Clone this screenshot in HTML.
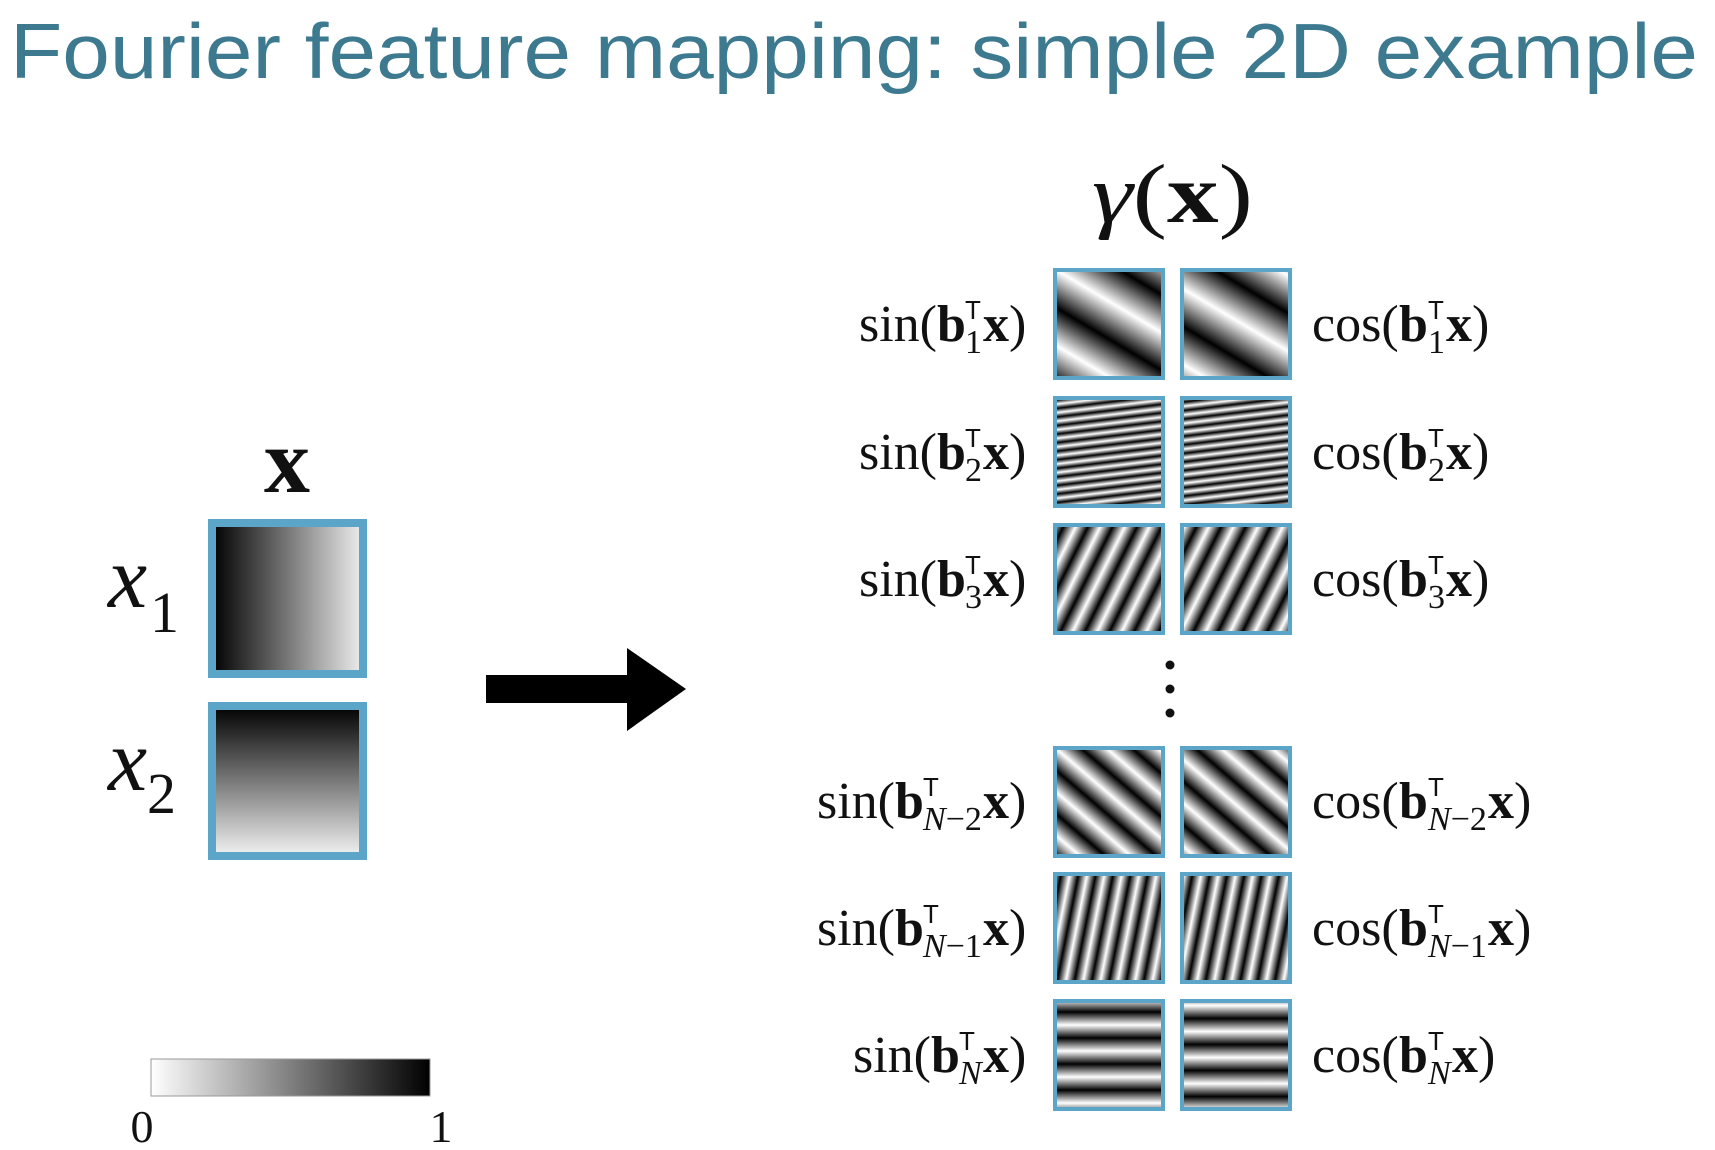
<!DOCTYPE html>
<html><head><meta charset="utf-8"><style>
html,body{margin:0;padding:0;background:#fff;width:1715px;height:1150px;overflow:hidden}
svg{display:block}
.m{font-family:"Liberation Serif",serif;font-size:52px;fill:#111}
.b{font-weight:bold}
.sup{font-family:"Liberation Sans",sans-serif;font-size:26px;fill:#111}
.sub{font-family:"Liberation Serif",serif;font-size:34px;fill:#111}
</style></head><body>
<svg width="1715" height="1150" viewBox="0 0 1715 1150" xmlns="http://www.w3.org/2000/svg">
<defs>
<linearGradient id="x1g" x1="0" y1="0" x2="1" y2="0"><stop offset="0" stop-color="#000"/><stop offset="1" stop-color="#eee"/></linearGradient>
<linearGradient id="x2g" x1="0" y1="0" x2="0" y2="1"><stop offset="0" stop-color="#000"/><stop offset="1" stop-color="#f2f2f2"/></linearGradient>
<linearGradient id="cb" x1="0" y1="0" x2="1" y2="0"><stop offset="0" stop-color="#fff"/><stop offset="1" stop-color="#000"/></linearGradient>
<linearGradient id="g1s" gradientUnits="userSpaceOnUse" spreadMethod="repeat" x1="0" y1="0" x2="-33.2" y2="55.9"><stop offset="0" stop-color="#fff"/><stop offset="0.5" stop-color="#000"/><stop offset="1" stop-color="#fff"/></linearGradient>
<linearGradient id="g1c" gradientUnits="userSpaceOnUse" spreadMethod="repeat" x1="-8.3" y1="14" x2="-41.5" y2="69.9"><stop offset="0" stop-color="#fff"/><stop offset="0.5" stop-color="#000"/><stop offset="1" stop-color="#fff"/></linearGradient>
<linearGradient id="g2s" gradientUnits="userSpaceOnUse" spreadMethod="repeat" x1="0" y1="0" x2="1.02" y2="8.44"><stop offset="0" stop-color="#fff"/><stop offset="0.5" stop-color="#000"/><stop offset="1" stop-color="#fff"/></linearGradient>
<linearGradient id="g2c" gradientUnits="userSpaceOnUse" spreadMethod="repeat" x1="0.25" y1="2.1" x2="1.27" y2="10.54"><stop offset="0" stop-color="#fff"/><stop offset="0.5" stop-color="#000"/><stop offset="1" stop-color="#fff"/></linearGradient>
<linearGradient id="g3s" gradientUnits="userSpaceOnUse" spreadMethod="repeat" x1="0" y1="0" x2="19.7" y2="9.8"><stop offset="0" stop-color="#fff"/><stop offset="0.5" stop-color="#000"/><stop offset="1" stop-color="#fff"/></linearGradient>
<linearGradient id="g3c" gradientUnits="userSpaceOnUse" spreadMethod="repeat" x1="4.9" y1="2.46" x2="24.6" y2="12.3"><stop offset="0" stop-color="#fff"/><stop offset="0.5" stop-color="#000"/><stop offset="1" stop-color="#fff"/></linearGradient>
<linearGradient id="g4s" gradientUnits="userSpaceOnUse" spreadMethod="repeat" x1="0" y1="0" x2="-21.45" y2="25.1"><stop offset="0" stop-color="#fff"/><stop offset="0.5" stop-color="#000"/><stop offset="1" stop-color="#fff"/></linearGradient>
<linearGradient id="g4c" gradientUnits="userSpaceOnUse" spreadMethod="repeat" x1="-5.36" y1="6.27" x2="-26.8" y2="31.4"><stop offset="0" stop-color="#fff"/><stop offset="0.5" stop-color="#000"/><stop offset="1" stop-color="#fff"/></linearGradient>
<linearGradient id="g5s" gradientUnits="userSpaceOnUse" spreadMethod="repeat" x1="0" y1="0" x2="16.66" y2="3.33"><stop offset="0" stop-color="#fff"/><stop offset="0.5" stop-color="#000"/><stop offset="1" stop-color="#fff"/></linearGradient>
<linearGradient id="g5c" gradientUnits="userSpaceOnUse" spreadMethod="repeat" x1="4.17" y1="0.83" x2="20.8" y2="4.17"><stop offset="0" stop-color="#fff"/><stop offset="0.5" stop-color="#000"/><stop offset="1" stop-color="#fff"/></linearGradient>
<linearGradient id="g6s" gradientUnits="userSpaceOnUse" spreadMethod="repeat" x1="0" y1="0" x2="0" y2="26"><stop offset="0" stop-color="#fff"/><stop offset="0.5" stop-color="#000"/><stop offset="1" stop-color="#fff"/></linearGradient>
<linearGradient id="g6c" gradientUnits="userSpaceOnUse" spreadMethod="repeat" x1="0" y1="6.5" x2="0" y2="32.5"><stop offset="0" stop-color="#fff"/><stop offset="0.5" stop-color="#000"/><stop offset="1" stop-color="#fff"/></linearGradient>
</defs>

<text x="10" y="78" font-family="Liberation Sans, sans-serif" font-size="78" fill="#3d7a90" textLength="1688" lengthAdjust="spacingAndGlyphs">Fourier feature mapping: simple 2D example</text>

<text x="287" y="492" text-anchor="middle" font-family="Liberation Serif, serif" font-size="92" font-weight="bold" fill="#111">x</text>
<rect x="212" y="523" width="151" height="151" fill="url(#x1g)" stroke="#5aa5c8" stroke-width="8"/>
<rect x="212" y="706" width="151" height="150" fill="url(#x2g)" stroke="#5aa5c8" stroke-width="8"/>
<text x="108" y="607" font-family="Liberation Serif, serif" font-style="italic" font-size="88" fill="#111">x</text>
<text x="150" y="632" font-family="Liberation Serif, serif" font-size="58" fill="#111">1</text>
<text x="108" y="790" font-family="Liberation Serif, serif" font-style="italic" font-size="88" fill="#111">x</text>
<text x="147" y="813" font-family="Liberation Serif, serif" font-size="58" fill="#111">2</text>

<polygon points="486,675 627,675 627,648 686,689 627,731 627,703 486,703" fill="#000"/>

<rect x="151" y="1059" width="279" height="37" fill="url(#cb)" stroke="#999" stroke-width="1"/>
<text x="142" y="1142" text-anchor="middle" font-family="Liberation Serif, serif" font-size="46" fill="#111">0</text>
<text x="441" y="1142" text-anchor="middle" font-family="Liberation Serif, serif" font-size="46" fill="#111">1</text>

<text x="1092" y="222" font-family="Liberation Serif, serif" font-size="84" fill="#111" textLength="161" lengthAdjust="spacingAndGlyphs"><tspan font-style="italic">γ</tspan>(<tspan font-weight="bold">x</tspan>)</text>

<g stroke="#5aa5c8" stroke-width="4">
<svg x="1053" y="268" width="112" height="112"><rect x="2" y="2" width="108" height="108" fill="url(#g1s)"/></svg>
<svg x="1180" y="268" width="112" height="112"><rect x="2" y="2" width="108" height="108" fill="url(#g1c)"/></svg>
<svg x="1053" y="396" width="112" height="112"><rect x="2" y="2" width="108" height="108" fill="url(#g2s)"/></svg>
<svg x="1180" y="396" width="112" height="112"><rect x="2" y="2" width="108" height="108" fill="url(#g2c)"/></svg>
<svg x="1053" y="523" width="112" height="112"><rect x="2" y="2" width="108" height="108" fill="url(#g3s)"/></svg>
<svg x="1180" y="523" width="112" height="112"><rect x="2" y="2" width="108" height="108" fill="url(#g3c)"/></svg>
<svg x="1053" y="746" width="112" height="112"><rect x="2" y="2" width="108" height="108" fill="url(#g4s)"/></svg>
<svg x="1180" y="746" width="112" height="112"><rect x="2" y="2" width="108" height="108" fill="url(#g4c)"/></svg>
<svg x="1053" y="872" width="112" height="112"><rect x="2" y="2" width="108" height="108" fill="url(#g5s)"/></svg>
<svg x="1180" y="872" width="112" height="112"><rect x="2" y="2" width="108" height="108" fill="url(#g5c)"/></svg>
<svg x="1053" y="999" width="112" height="112"><rect x="2" y="2" width="108" height="108" fill="url(#g6s)"/></svg>
<svg x="1180" y="999" width="112" height="112"><rect x="2" y="2" width="108" height="108" fill="url(#g6c)"/></svg>
</g>

<circle cx="1170" cy="665" r="4.5" fill="#111"/>
<circle cx="1170" cy="689" r="4.5" fill="#111"/>
<circle cx="1170" cy="713" r="4.5" fill="#111"/>

<g>
<text class="m" x="937" y="341" text-anchor="end">sin(</text><text class="m b" x="937" y="341">b</text>
<text class="sup" x="965" y="319">T</text><text class="sub" x="965" y="353">1</text>
<text class="m b" x="983" y="341">x</text><text class="m" x="1009" y="341">)</text>
<text class="m" x="1312" y="341">cos(</text><text class="m b" x="1399" y="341">b</text>
<text class="sup" x="1428" y="319">T</text><text class="sub" x="1428" y="353">1</text>
<text class="m b" x="1446" y="341">x</text><text class="m" x="1472" y="341">)</text>
</g>
<g>
<text class="m" x="937" y="469" text-anchor="end">sin(</text><text class="m b" x="937" y="469">b</text>
<text class="sup" x="965" y="447">T</text><text class="sub" x="965" y="481">2</text>
<text class="m b" x="983" y="469">x</text><text class="m" x="1009" y="469">)</text>
<text class="m" x="1312" y="469">cos(</text><text class="m b" x="1399" y="469">b</text>
<text class="sup" x="1428" y="447">T</text><text class="sub" x="1428" y="481">2</text>
<text class="m b" x="1446" y="469">x</text><text class="m" x="1472" y="469">)</text>
</g>
<g>
<text class="m" x="937" y="596" text-anchor="end">sin(</text><text class="m b" x="937" y="596">b</text>
<text class="sup" x="965" y="574">T</text><text class="sub" x="965" y="608">3</text>
<text class="m b" x="983" y="596">x</text><text class="m" x="1009" y="596">)</text>
<text class="m" x="1312" y="596">cos(</text><text class="m b" x="1399" y="596">b</text>
<text class="sup" x="1428" y="574">T</text><text class="sub" x="1428" y="608">3</text>
<text class="m b" x="1446" y="596">x</text><text class="m" x="1472" y="596">)</text>
</g>
<g>
<text class="m" x="895" y="818" text-anchor="end">sin(</text><text class="m b" x="895" y="818">b</text>
<text class="sup" x="923" y="796">T</text><text class="sub" x="923" y="830"><tspan font-style="italic">N</tspan>−2</text>
<text class="m b" x="983" y="818">x</text><text class="m" x="1009" y="818">)</text>
<text class="m" x="1312" y="818">cos(</text><text class="m b" x="1399" y="818">b</text>
<text class="sup" x="1428" y="796">T</text><text class="sub" x="1428" y="830"><tspan font-style="italic">N</tspan>−2</text>
<text class="m b" x="1488" y="818">x</text><text class="m" x="1514" y="818">)</text>
</g>
<g>
<text class="m" x="895" y="945" text-anchor="end">sin(</text><text class="m b" x="895" y="945">b</text>
<text class="sup" x="923" y="923">T</text><text class="sub" x="923" y="957"><tspan font-style="italic">N</tspan>−1</text>
<text class="m b" x="983" y="945">x</text><text class="m" x="1009" y="945">)</text>
<text class="m" x="1312" y="945">cos(</text><text class="m b" x="1399" y="945">b</text>
<text class="sup" x="1428" y="923">T</text><text class="sub" x="1428" y="957"><tspan font-style="italic">N</tspan>−1</text>
<text class="m b" x="1488" y="945">x</text><text class="m" x="1514" y="945">)</text>
</g>
<g>
<text class="m" x="931" y="1072" text-anchor="end">sin(</text><text class="m b" x="931" y="1072">b</text>
<text class="sup" x="959" y="1050">T</text><text class="sub" x="959" y="1084" font-style="italic">N</text>
<text class="m b" x="983" y="1072">x</text><text class="m" x="1009" y="1072">)</text>
<text class="m" x="1312" y="1072">cos(</text><text class="m b" x="1399" y="1072">b</text>
<text class="sup" x="1428" y="1050">T</text><text class="sub" x="1428" y="1084" font-style="italic">N</text>
<text class="m b" x="1452" y="1072">x</text><text class="m" x="1478" y="1072">)</text>
</g>
</svg>
</body></html>
